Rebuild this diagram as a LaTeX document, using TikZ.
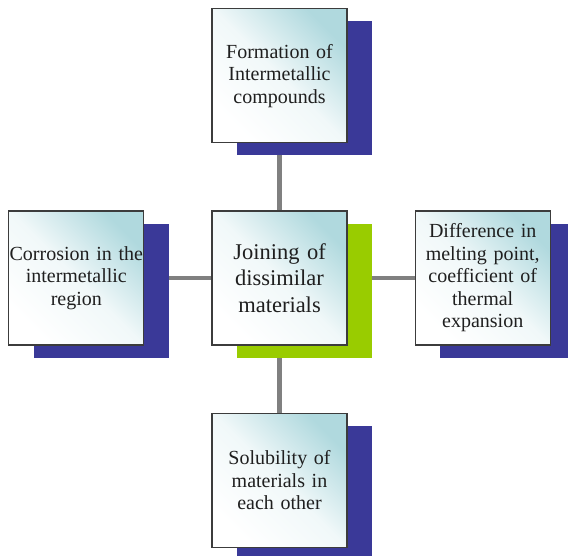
\documentclass[tikz,border=0pt]{standalone}
\usepackage{fontspec}
\setmainfont{Liberation Serif}
\usepackage{tikz}
\usetikzlibrary{positioning, shadows, backgrounds}

\definecolor{shadowblue}{RGB}{58,57,152}
\definecolor{shadowgreen}{RGB}{153,204,0}
\definecolor{boxtint}{RGB}{176,217,222}
\definecolor{linkgray}{RGB}{128,128,128}
\definecolor{edgegray}{RGB}{60,60,60}

\tikzset{
  topic/.style={draw=edgegray, line width=1.2pt,
    top color=boxtint, bottom color=white, shading angle=-45,
    middle color=boxtint!18,
    minimum width=135pt, minimum height=134pt, text width=135pt,
    inner sep=0pt, align=center, text=black!88,
    font=\fontsize{20}{22.5}\selectfont},
  blueshadow/.style={drop shadow={shadow xshift=25pt, shadow yshift=-12.5pt,
    fill=shadowblue, draw=none, opacity=1}},
  greenshadow/.style={drop shadow={shadow xshift=25pt, shadow yshift=-12.5pt,
    fill=shadowgreen, draw=none, opacity=1}},
  link/.style={draw=linkgray, line width=4.5pt}
}

\begin{document}
\begin{tikzpicture}[x=1pt, y=1pt, node distance=67pt]
\useasboundingbox (0,0) rectangle (568,-555);

% centre and the four issues round it
\node[topic, greenshadow, font=\fontsize{22.5}{26.5}\selectfont] (joining) at (279.5,-278) {Joining of\\dissimilar\\materials};
\node[topic, blueshadow, above=of joining] (formation) {Formation of\\Intermetallic\\compounds};
\node[topic, blueshadow, left=of joining] (corrosion) {Corrosion in the\\intermetallic\\region};
\node[topic, blueshadow, right=of joining] (difference) {Difference in\\melting point,\\coefficient of\\thermal\\expansion};
\node[topic, blueshadow, below=of joining] (solubility) {Solubility of\\materials in\\each other};

\begin{scope}[on background layer]
\draw[link] (joining.center) -- (formation.center);
\draw[link] (joining.center) -- (corrosion.center);
\draw[link] (joining.center) -- (difference.center);
\draw[link] (joining.center) -- (solubility.center);
\end{scope}
\end{tikzpicture}
\end{document}
